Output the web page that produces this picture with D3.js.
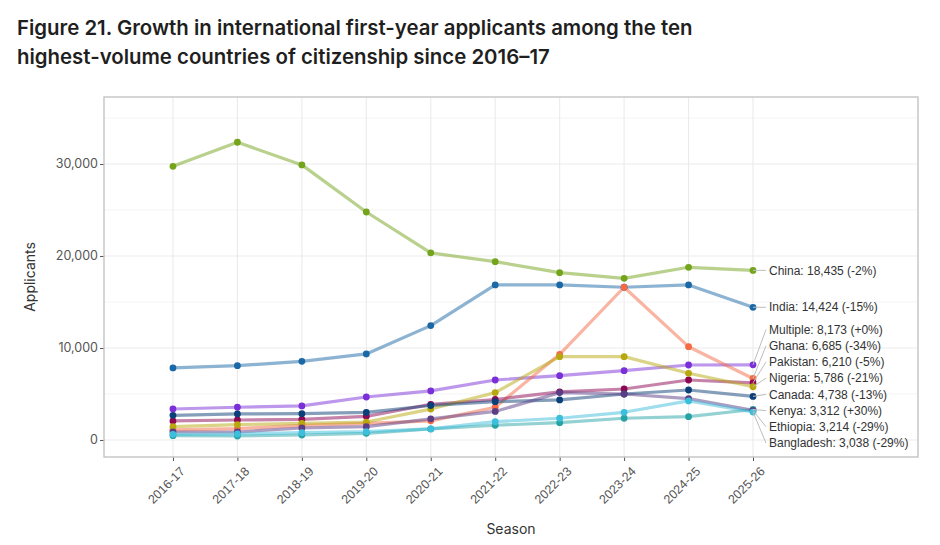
<!DOCTYPE html>
<html>
<head>
<meta charset="utf-8">
<script src="https://cdn.jsdelivr.net/npm/d3@7"></script>
<style>
  body { margin: 0; background: #fff; }
  svg { display: block; }
</style>
</head>
<body>
<div id="chart"></div>
<script>
const seasons = ["2016-17", "2017-18", "2018-19", "2019-20", "2020-21", "2021-22", "2022-23", "2023-24", "2024-25", "2025-26"];

const countries = ["China", "India", "Multiple", "Ghana", "Pakistan", "Nigeria", "Canada", "Kenya", "Ethiopia", "Bangladesh"];
const china      = [29750, 32360, 29900, 24780, 20330, 19380, 18190, 17570, 18770, 18435];
const india      = [7830, 8080, 8550, 9350, 12430, 16850, 16850, 16600, 16850, 14424];
const multiple   = [3370, 3560, 3700, 4670, 5330, 6520, 6990, 7530, 8150, 8173];
const ghana      = [1090, 1230, 1590, 1810, 2080, 3560, 9310, 16600, 10140, 6685];
const pakistan   = [2070, 2170, 2250, 2570, 3880, 4400, 5230, 5540, 6520, 6210];
const nigeria    = [1450, 1670, 1810, 1950, 3360, 5150, 9060, 9060, 7250, 5786];
const canada     = [2680, 2830, 2860, 3000, 3750, 4160, 4350, 5000, 5430, 4738];
const kenya      = [470, 430, 540, 720, 1200, 1600, 1880, 2360, 2530, 3312];
const ethiopia   = [870, 870, 1300, 1450, 2300, 3100, 5150, 5000, 4500, 3214];
const bangladesh = [620, 650, 790, 900, 1200, 1990, 2360, 3010, 4250, 3038];
const pctChange  = ["-2%", "-15%", "+0%", "-34%", "-5%", "-21%", "-13%", "+30%", "-29%", "-29%"];
const colors = ["#74a31c", "#1b68a6", "#7b2fd8", "#f46a45", "#8e0753", "#b8a70d", "#0b3f78", "#27a3a6", "#5a3d85", "#3dbedc"];

const yTicks = [0, 10000, 20000, 30000];
const yMinor = [5000, 15000, 25000, 35000];

const values = [china, india, multiple, ghana, pakistan, nigeria, canada, kenya, ethiopia, bangladesh];
const series = countries.map((name, i) => ({ name, values: values[i], color: colors[i], pct: pctChange[i] }));

const W = 940, H = 545;
const panel = { left: 104, right: 918, top: 97, bottom: 457 };

const svg = d3.select("#chart").append("svg")
  .attr("width", W)
  .attr("height", H)
  .style("font-family", "Inter, 'Noto Sans', sans-serif");

// title
const title = svg.append("text")
  .attr("x", 17)
  .attr("fill", "#1f1f1f")
  .attr("font-size", 20.4)
  .attr("font-weight", 600);
title.append("tspan").attr("x", 17).attr("y", 35).text("Figure 21. Growth in international first-year applicants among the ten");
title.append("tspan").attr("x", 17).attr("y", 64).text("highest-volume countries of citizenship since 2016\u201317");

// categories sit at index positions; panel runs a bit wider on the right for the labels
const x = d3.scaleLinear()
  .domain([-1.07, 11.56])
  .range([panel.left, panel.right]);

const y = d3.scaleLinear()
  .domain([-1850, 37280])
  .range([panel.bottom, panel.top]);

// panel background + grid
svg.append("rect")
  .attr("x", panel.left).attr("y", panel.top)
  .attr("width", panel.right - panel.left).attr("height", panel.bottom - panel.top)
  .attr("fill", "#fff");

svg.append("g").selectAll("line")
  .data(yMinor)
  .join("line")
  .attr("x1", panel.left).attr("x2", panel.right)
  .attr("y1", d => y(d)).attr("y2", d => y(d))
  .attr("stroke", "#f4f4f4").attr("stroke-width", 1);

svg.append("g").selectAll("line")
  .data(yTicks)
  .join("line")
  .attr("x1", panel.left).attr("x2", panel.right)
  .attr("y1", d => y(d)).attr("y2", d => y(d))
  .attr("stroke", "#ebebeb").attr("stroke-width", 1.1);

svg.append("g").selectAll("line")
  .data(seasons)
  .join("line")
  .attr("x1", (d, i) => x(i)).attr("x2", (d, i) => x(i))
  .attr("y1", panel.top).attr("y2", panel.bottom)
  .attr("stroke", "#ebebeb").attr("stroke-width", 1.1);

// axes
const yAxis = svg.append("g")
  .attr("transform", `translate(${panel.left},0)`)
  .call(d3.axisLeft(y).tickValues(yTicks).tickFormat(d3.format(",")).tickSize(4).tickPadding(2));
yAxis.select(".domain").remove();
yAxis.selectAll("line").attr("stroke", "#555");
yAxis.selectAll("text").attr("fill", "#555").attr("font-size", 12.5).attr("font-family", "Inter, sans-serif");

const xAxis = svg.append("g")
  .attr("transform", `translate(0,${panel.bottom})`)
  .call(d3.axisBottom(x).tickValues(d3.range(seasons.length)).tickFormat(i => seasons[i]).tickSize(4));
xAxis.select(".domain").remove();
xAxis.selectAll("line").attr("stroke", "#555");
xAxis.selectAll("text")
  .attr("fill", "#555")
  .attr("font-size", 12.5)
  .attr("text-anchor", "end")
  .attr("transform", "translate(1,4) rotate(-45)")
  .attr("dy", "0.7em");

// lines
const line = d3.line()
  .x((d, i) => x(i))
  .y(d => y(d));

svg.append("g").selectAll("path")
  .data(series)
  .join("path")
  .attr("d", d => line(d.values))
  .attr("fill", "none")
  .attr("stroke", d => d.color)
  .attr("stroke-opacity", 0.5)
  .attr("stroke-width", 3.2)
  .attr("stroke-linejoin", "round");

svg.append("g").selectAll("g")
  .data(series)
  .join("g")
  .attr("fill", d => d.color)
  .selectAll("circle")
  .data(d => d.values)
  .join("circle")
  .attr("cx", (d, i) => x(i))
  .attr("cy", d => y(d))
  .attr("r", 3.4);

// end labels: dodge overlapping ones, keep them inside the panel
const last = seasons.length - 1;
const gap = 16.2;
const maxY = panel.bottom - 14;
const labels = series.map(s => ({ s, target: y(s.values[last]) }))
  .sort((a, b) => a.target - b.target);

const place = (items) => {
  let pos = d3.mean(items, d => d.target) - (items.length - 1) * gap / 2;
  return Math.min(pos, maxY - (items.length - 1) * gap);
};

let groups = labels.map(l => ({ items: [l], pos: place([l]) }));
let merged = true;
while (merged) {
  merged = false;
  for (let i = 0; i < groups.length - 1; i++) {
    const a = groups[i], b = groups[i + 1];
    const aBottom = a.pos + (a.items.length - 1) * gap;
    if (b.pos - aBottom < gap) {
      const items = a.items.concat(b.items);
      groups.splice(i, 2, { items, pos: place(items) });
      merged = true;
      break;
    }
  }
}
groups.forEach(g => g.items.forEach((l, k) => { l.ly = g.pos + k * gap; }));

const labelX = x(last) + 16;
const fmt = d3.format(",");

svg.append("g").selectAll("line")
  .data(labels)
  .join("line")
  .attr("x1", x(last)).attr("y1", d => d.target)
  .attr("x2", labelX - 3).attr("y2", d => d.ly)
  .attr("stroke", "#bdbdbd").attr("stroke-width", 1);

svg.append("g").selectAll("text")
  .data(labels)
  .join("text")
  .attr("x", labelX)
  .attr("y", d => d.ly)
  .attr("dy", "0.35em")
  .attr("font-family", "'Liberation Sans', Arial, sans-serif")
  .attr("font-size", 12)
  .attr("fill", "#333")
  .text(d => `${d.s.name}: ${fmt(d.s.values[last])} (${d.s.pct})`);

// panel border
svg.append("rect")
  .attr("x", panel.left).attr("y", panel.top)
  .attr("width", panel.right - panel.left).attr("height", panel.bottom - panel.top)
  .attr("fill", "none")
  .attr("stroke", "#c4c4c4")
  .attr("stroke-width", 1.4);

// axis titles
svg.append("text")
  .attr("transform", `translate(35,${(panel.top + panel.bottom) / 2}) rotate(-90)`)
  .attr("text-anchor", "middle")
  .attr("font-size", 14)
  .attr("fill", "#333")
  .text("Applicants");

svg.append("text")
  .attr("x", (panel.left + panel.right) / 2)
  .attr("y", 534)
  .attr("text-anchor", "middle")
  .attr("font-size", 14)
  .attr("fill", "#333")
  .text("Season");
</script>
</body>
</html>
